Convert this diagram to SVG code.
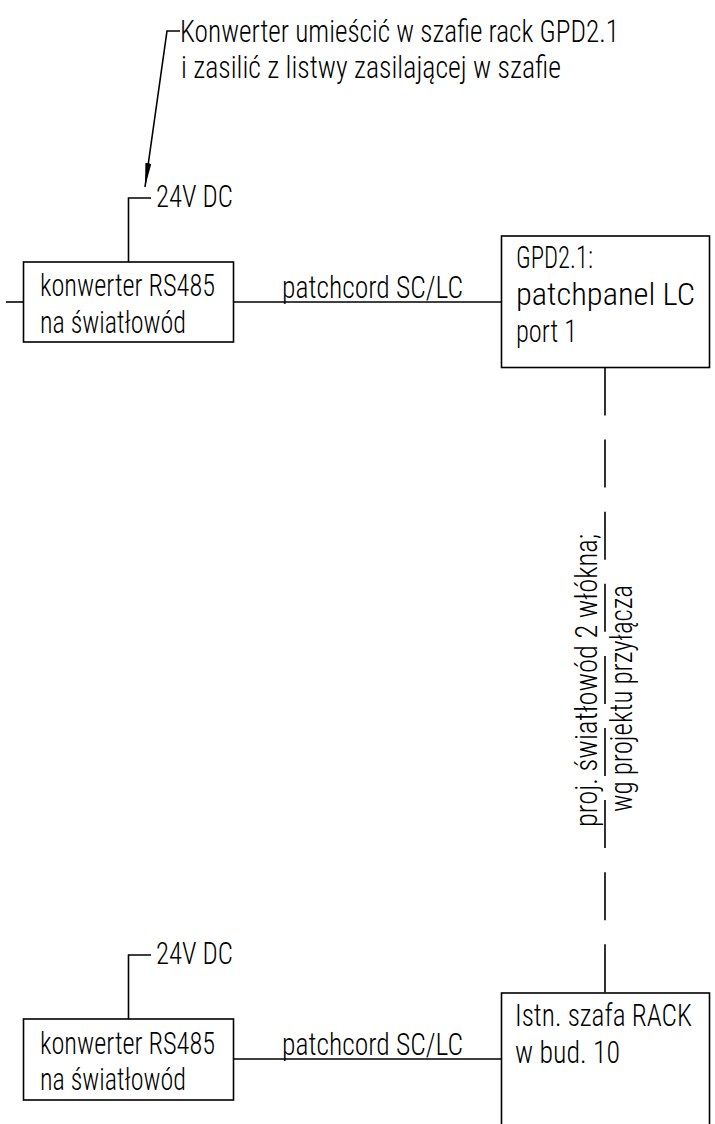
<svg xmlns="http://www.w3.org/2000/svg" width="715" height="1124" viewBox="0 0 715 1124">
<style>
.t{font-family:"Roboto Condensed","Roboto","Liberation Sans",Arial,sans-serif;font-weight:300;font-size:32px;fill:#000}
.box{fill:#fff;stroke:#000;stroke-width:1.6}
.ln{fill:none;stroke:#000;stroke-width:1.6}
.dash{fill:none;stroke:#000;stroke-width:1.6;stroke-dasharray:48 24.1}
</style>
<defs>
<marker id="arr" markerWidth="26" markerHeight="8" refX="24" refY="4" orient="auto" markerUnits="userSpaceOnUse" viewBox="0 0 26 8">
<path d="M0,1 L24,4 L0,7 Z" fill="#000"/>
</marker>
</defs>
<rect width="715" height="1124" fill="#fff"/>
<g id="connectors">
<polyline class="ln" points="180,31 167,31 145,187" marker-end="url(#arr)"/>
<polyline class="ln" points="128.5,262 128.5,198 151,198"/>
<line class="ln" x1="6" y1="302" x2="23.5" y2="302"/>
<line class="ln" x1="233.5" y1="302" x2="501.5" y2="302"/>
<line class="dash" x1="605" y1="367.5" x2="605" y2="993"/>
<polyline class="ln" points="128.5,1019 128.5,955 151,955"/>
<line class="ln" x1="233.5" y1="1059" x2="501.5" y2="1059"/>
</g>
<g id="note">
<text class="t" x="180" y="42" textLength="439" lengthAdjust="spacingAndGlyphs">Konwerter umieścić w szafie rack GPD2.1</text>
<text class="t" x="181" y="78" textLength="380" lengthAdjust="spacingAndGlyphs">i zasilić z listwy zasilającej w szafie</text>
</g>
<g id="label-24v-top">
<text class="t" x="156" y="207" textLength="77" lengthAdjust="spacingAndGlyphs">24V DC</text>
</g>
<g id="conv-top">
<rect class="box" x="23.5" y="262" width="210" height="80"/>
<text class="t" x="40" y="296" textLength="175" lengthAdjust="spacingAndGlyphs">konwerter RS485</text>
<text class="t" x="40" y="333" textLength="146" lengthAdjust="spacingAndGlyphs">na światłowód</text>
</g>
<g id="label-patch-top">
<text class="t" x="282" y="298" textLength="181" lengthAdjust="spacingAndGlyphs">patchcord SC/LC</text>
</g>
<g id="gpd">
<rect class="box" x="501.5" y="236" width="208" height="131.5"/>
<text class="t" x="516" y="268" textLength="77" lengthAdjust="spacingAndGlyphs">GPD2.1:</text>
<text class="t" x="516" y="305" textLength="179" lengthAdjust="spacingAndGlyphs">patchpanel LC</text>
<text class="t" x="516" y="342" textLength="61" lengthAdjust="spacingAndGlyphs">port 1</text>
</g>
<g id="label-fiber">
<text class="t" transform="translate(597,827) rotate(-90)" x="0" y="0" textLength="293" lengthAdjust="spacingAndGlyphs">proj. światłowód 2 włókna;</text>
<text class="t" transform="translate(632,812) rotate(-90)" x="0" y="0" textLength="227" lengthAdjust="spacingAndGlyphs">wg projektu przyłącza</text>
</g>
<g id="label-24v-bottom">
<text class="t" x="156" y="964" textLength="77" lengthAdjust="spacingAndGlyphs">24V DC</text>
</g>
<g id="conv-bottom">
<rect class="box" x="23.5" y="1019" width="210" height="81"/>
<text class="t" x="40" y="1054" textLength="175" lengthAdjust="spacingAndGlyphs">konwerter RS485</text>
<text class="t" x="40" y="1090" textLength="146" lengthAdjust="spacingAndGlyphs">na światłowód</text>
</g>
<g id="label-patch-bottom">
<text class="t" x="282" y="1055" textLength="181" lengthAdjust="spacingAndGlyphs">patchcord SC/LC</text>
</g>
<g id="rack">
<rect class="box" x="501.5" y="993" width="208" height="140"/>
<text class="t" x="515" y="1026" textLength="177" lengthAdjust="spacingAndGlyphs">Istn. szafa RACK</text>
<text class="t" x="515" y="1063" textLength="105" lengthAdjust="spacingAndGlyphs">w bud. 10</text>
</g>
</svg>
